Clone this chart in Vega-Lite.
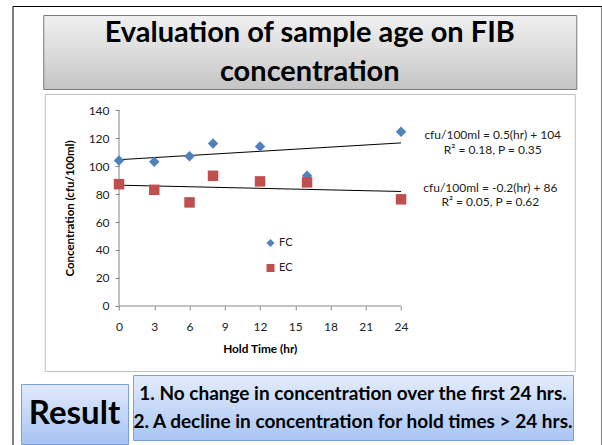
{
  "$schema": "https://vega.github.io/schema/vega-lite/v6.json",
  "background": "white",
  "padding": {"left": 12, "top": 5, "right": 0, "bottom": 0},
  "spacing": 2,
  "config": {"view": {"stroke": null}, "font": "Lato"},
  "datasets": {
    "obs": [
      {"hr": 0, "conc": 104, "series": "FC"},
      {"hr": 3, "conc": 103, "series": "FC"},
      {"hr": 6, "conc": 107, "series": "FC"},
      {"hr": 8, "conc": 116, "series": "FC"},
      {"hr": 12, "conc": 114, "series": "FC"},
      {"hr": 16, "conc": 93, "series": "FC"},
      {"hr": 24, "conc": 124.5, "series": "FC"},
      {"hr": 0, "conc": 87, "series": "EC"},
      {"hr": 3, "conc": 83, "series": "EC"},
      {"hr": 6, "conc": 74, "series": "EC"},
      {"hr": 8, "conc": 93, "series": "EC"},
      {"hr": 12, "conc": 89, "series": "EC"},
      {"hr": 16, "conc": 88.3, "series": "EC"},
      {"hr": 24, "conc": 76.2, "series": "EC"}
    ],
    "trend": [
      {"hr": 0, "conc": 104.5, "series": "FC"},
      {"hr": 24, "conc": 116.5, "series": "FC"},
      {"hr": 0, "conc": 86.3, "series": "EC"},
      {"hr": 24, "conc": 81.8, "series": "EC"}
    ],
    "axisX": [{"hr": 0, "conc": 0, "hr_end": 24}],
    "axisY": [{"hr": 0, "conc": 0, "conc_end": 140}],
    "notes": [
      {"label": "cfu/100ml = 0.5(hr) + 104", "hr": 31.8, "conc": 121.9},
      {"label": "R² = 0.18, P = 0.35", "hr": 31.8, "conc": 111.6},
      {"label": "cfu/100ml = -0.2(hr) + 86", "hr": 31.6, "conc": 84.5},
      {"label": "R² = 0.05, P = 0.62", "hr": 31.6, "conc": 74.1}
    ]
  },
  "vconcat": [
    {
      "spacing": 20,
      "hconcat": [
        {"width": 1, "height": 1, "data": {"values": []}, "mark": "text"},
        {
          "spacing": 3,
          "center": true,
          "vconcat": [
            {
              "width": 533,
              "height": 74,
              "view": {
                "stroke": "#7a7a7a",
                "strokeWidth": 1,
                "fill": {
                  "gradient": "linear",
                  "x1": 0, "y1": 0, "x2": 0, "y2": 1,
                  "stops": [
                    {"offset": 0, "color": "#f0f0f0"},
                    {"offset": 0.5, "color": "#dcdcdc"},
                    {"offset": 1, "color": "#c4c4c4"}
                  ]
                }
              },
              "data": {"values": [{"t": "Evaluation of sample age on FIB\nconcentration"}]},
              "mark": {
                "type": "text",
                "font": "Lato",
                "fontSize": 29,
                "fontWeight": "bold",
                "lineBreak": "\n",
                "lineHeight": 39,
                "dy": -19.5,
                "baseline": "middle",
                "align": "center",
                "color": "black"
              },
              "encoding": {"text": {"field": "t", "type": "nominal"}}
            },
            {
              "width": 530,
              "height": 277,
              "view": {"fill": "white", "stroke": "#bfbfbf", "strokeWidth": 1},
              "data": {"name": "obs"},
              "encoding": {
                "x": {
                  "field": "hr",
                  "type": "quantitative",
                  "scale": {"domain": [-6.32, 38.78], "nice": false, "zero": false},
                  "axis": {
                    "orient": "bottom",
                    "offset": -65,
                    "values": [0, 3, 6, 9, 12, 15, 18, 21, 24],
                    "domain": false,
                    "grid": false,
                    "tickColor": "#868686",
                    "tickSize": 4,
                    "labelPadding": 11,
                    "labelFont": "Lato",
                    "labelFontSize": 12,
                    "labelColor": "#222222",
                    "title": "Hold Time (hr)",
                    "titleFont": "Lato",
                    "titleFontSize": 11.8,
                    "titleFontWeight": "bold",
                    "titleColor": "black",
                    "titleX": 215,
                    "titleY": 42,
                    "titleBaseline": "middle"
                  }
                },
                "y": {
                  "field": "conc",
                  "type": "quantitative",
                  "scale": {"domain": [-46.43, 151.43], "nice": false, "zero": false},
                  "axis": {
                    "orient": "left",
                    "offset": -74.3,
                    "values": [0, 20, 40, 60, 80, 100, 120, 140],
                    "domain": false,
                    "grid": false,
                    "tickColor": "#868686",
                    "tickSize": 4,
                    "labelPadding": 6,
                    "labelFont": "Lato",
                    "labelFontSize": 12,
                    "labelColor": "#222222",
                    "title": "Concentration (cfu/100ml)",
                    "titleFont": "Lato",
                    "titleFontSize": 11.5,
                    "titleFontWeight": "bold",
                    "titleColor": "black",
                    "titleX": -48.5,
                    "titleY": 114,
                    "titleBaseline": "middle"
                  }
                }
              },
              "layer": [
                {
                  "data": {"name": "axisX"},
                  "mark": {"type": "rule", "color": "#868686", "strokeWidth": 1},
                  "encoding": {"x2": {"field": "hr_end"}}
                },
                {
                  "data": {"name": "axisY"},
                  "mark": {"type": "rule", "color": "#868686", "strokeWidth": 1},
                  "encoding": {"y2": {"field": "conc_end"}}
                },
                {
                  "data": {"name": "trend"},
                  "mark": {"type": "line", "color": "black", "strokeWidth": 1},
                  "encoding": {"detail": {"field": "series", "type": "nominal"}}
                },
                {
                  "mark": {"type": "point", "filled": true, "size": 110, "opacity": 1},
                  "encoding": {
                    "color": {
                      "field": "series",
                      "type": "nominal",
                      "scale": {"domain": ["FC", "EC"], "range": ["#4F81BD", "#C0504D"]},
                      "legend": {
                        "title": null,
                        "orient": "none",
                        "legendX": 244,
                        "legendY": 222.5,
                        "padding": 0,
                        "rowPadding": 13,
                        "symbolSize": 64,
                        "symbolStrokeWidth": 0,
                        "labelFont": "Lato",
                        "labelFontSize": 11,
                        "labelColor": "#222222",
                        "labelOffset": 3
                      }
                    },
                    "shape": {
                      "field": "series",
                      "type": "nominal",
                      "scale": {"domain": ["FC", "EC"], "range": ["diamond", "square"]},
                      "legend": {
                        "title": null,
                        "orient": "none",
                        "legendX": 244,
                        "legendY": 222.5,
                        "padding": 0,
                        "rowPadding": 13,
                        "symbolSize": 64,
                        "symbolStrokeWidth": 0,
                        "labelFont": "Lato",
                        "labelFontSize": 11,
                        "labelColor": "#222222",
                        "labelOffset": 3
                      }
                    }
                  }
                },
                {
                  "data": {"name": "notes"},
                  "mark": {"type": "text", "font": "Lato", "fontSize": 12, "color": "#222222", "baseline": "middle", "align": "center"},
                  "encoding": {"text": {"field": "label", "type": "nominal"}}
                },
                {
                  "data": {"values": []},
                  "mark": {"type": "point"},
                  "encoding": {
                    "stroke": {
                      "field": "frame",
                      "type": "quantitative",
                      "scale": {"domain": [0, 1], "range": ["rgba(0,0,0,0)", "rgba(0,0,0,0)"]},
                      "legend": {
                        "type": "gradient",
                        "title": null,
                        "orient": "none",
                        "direction": "vertical",
                        "legendX": -8.5,
                        "legendY": -9,
                        "padding": 0,
                        "gradientLength": 452,
                        "gradientThickness": 589,
                        "gradientStrokeWidth": 0,
                        "values": [],
                        "labelOffset": 0,
                        "strokeColor": "black",
                        "encode": {"legend": {"update": {"strokeWidth": {"value": 3}}}}
                      }
                    }
                  }
                }
              ]
            }
          ]
        }
      ]
    },
    {
      "spacing": 3,
      "hconcat": [
        {
          "spacing": 7,
          "vconcat": [
            {"width": 1, "height": 1, "data": {"values": []}, "mark": "text"},
            {
              "width": 107,
              "height": 60,
              "view": {
                "stroke": "#7ba1dd",
                "strokeWidth": 1,
                "fill": {
                  "gradient": "linear",
                  "x1": 0, "y1": 0, "x2": 0, "y2": 1,
                  "stops": [
                    {"offset": 0, "color": "#e1eafb"},
                    {"offset": 1, "color": "#a6c3f2"}
                  ]
                }
              },
              "data": {"values": [{"t": "Result"}]},
              "mark": {"type": "text", "font": "Lato", "fontSize": 33, "fontWeight": "bold", "baseline": "middle", "align": "center", "color": "black"},
              "encoding": {"text": {"field": "t", "type": "nominal"}}
            }
          ]
        },
        {
          "width": 440,
          "height": 65,
          "view": {
            "stroke": "#7ba1dd",
            "strokeWidth": 1,
            "fill": {
              "gradient": "linear",
              "x1": 0, "y1": 0, "x2": 0, "y2": 1,
              "stops": [
                {"offset": 0, "color": "#e3ecfc"},
                {"offset": 1, "color": "#a9c5f4"}
              ]
            }
          },
          "data": {"values": [{"t": "1. No change in concentration over the first 24 hrs.\n2. A decline in concentration for hold times > 24 hrs."}]},
          "mark": {"type": "text", "font": "Lato", "fontSize": 19, "fontWeight": "bold", "lineBreak": "\n", "lineHeight": 28, "dy": -14, "baseline": "middle", "align": "center", "color": "black"},
          "encoding": {"text": {"field": "t", "type": "nominal"}}
        }
      ]
    }
  ]
}
